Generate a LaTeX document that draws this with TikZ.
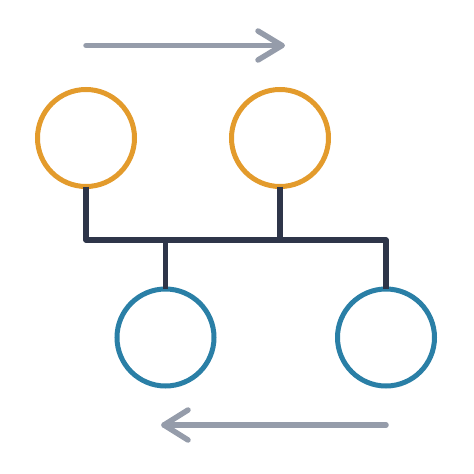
\documentclass[tikz,border=0pt]{standalone}
\definecolor{ringorange}{HTML}{E39B2C}
\definecolor{ringblue}{HTML}{2A7FA6}
\definecolor{linknavy}{HTML}{2E3549}
\definecolor{arrowgray}{HTML}{959CAA}
\begin{document}
\begin{tikzpicture}[x=1pt,y=-1pt,
  ring/.style={circle,draw,line width=5pt,minimum size=97pt,inner sep=0pt,outer sep=0pt},
  link/.style={draw=linknavy,line width=5.5pt,line join=round,line cap=butt},
  flow/.style={draw=arrowgray,line width=5.5pt,line cap=round,line join=round}]
\useasboundingbox (0,0) rectangle (474,474);
\node[ring,draw=ringorange] (o1) at (86,138) {};
\node[ring,draw=ringorange] (o2) at (280,138) {};
\node[ring,draw=ringblue] (b1) at (165.5,337.5) {};
\node[ring,draw=ringblue] (b2) at (386,337.5) {};
\coordinate (c1) at (86,240);
\coordinate (c2) at (280,240);
\coordinate (c3) at (165.5,240);
\coordinate (c4) at (386,240);
\draw[link] (o1.south) -- (c1) -- (c4) -- (b2.north);
\draw[link] (o2.south) -- (c2);
\draw[link] (c3) -- (b1.north);
% top arrow
\coordinate (t0) at (86,45.5);
\coordinate (t1) at (282,45.5);
\coordinate (tu) at (258,31);
\coordinate (td) at (258,60);
\draw[flow] (t0) -- (t1);
\draw[flow] (tu) -- (t1) -- (td);
% bottom arrow
\coordinate (s0) at (386,425);
\coordinate (s1) at (164,425);
\coordinate (su) at (188,410);
\coordinate (sd) at (188,440);
\draw[flow] (s0) -- (s1);
\draw[flow] (su) -- (s1) -- (sd);
\end{tikzpicture}
\end{document}
